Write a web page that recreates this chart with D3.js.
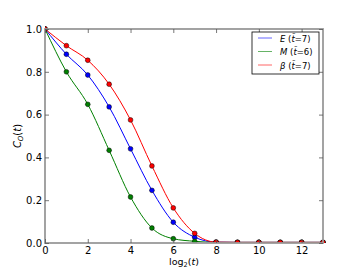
<!DOCTYPE html>
<html lang="en">
<head>
    <meta charset="UTF-8">
    <script src="https://cdn.jsdelivr.net/npm/d3@7"></script>
    <style>
        * { margin: 0; padding: 0; }
        body { background: #fff; }
        text { font-family: "DejaVu Sans", sans-serif; }
    </style>
</head>
<body>
    <script>
        const width = 360;
        const height = 270;
        const margin = { left: 45, right: 37, top: 29, bottom: 27 };

        // data
        const steps = [0, 1, 2, 3, 4, 5, 6, 7, 8, 9, 10, 11, 12, 13];
        const valsE = [1, 0.882, 0.785, 0.636, 0.44, 0.246, 0.097, 0.027, 0.004, 0.003, 0.003, 0.003, 0.003, 0.003];
        const valsM = [1, 0.80, 0.648, 0.433, 0.215, 0.07, 0.02, 0.008, 0.003, 0.003, 0.003, 0.003, 0.003, 0.003];
        const valsB = [1, 0.922, 0.854, 0.742, 0.575, 0.36, 0.164, 0.045, 0.004, 0.003, 0.003, 0.003, 0.003, 0.003];
        const seriesNames = ["E", "M", "β"];
        const tbar = [7, 6, 7];
        const seriesColors = ["#0000ff", "#008000", "#ff0000"];
        const xTicks = [0, 2, 4, 6, 8, 10, 12];
        const yTicks = [0, 0.2, 0.4, 0.6, 0.8, 1.0];

        const series = [valsE, valsM, valsB];

        const x = d3.scaleLinear().domain([0, 13]).range([margin.left, width - margin.right]);
        const y = d3.scaleLinear().domain([0, 1]).range([height - margin.bottom, margin.top]);

        const svg = d3.select("body").append("svg")
            .attr("width", width)
            .attr("height", height);

        svg.append("defs").append("clipPath").attr("id", "clip")
            .append("rect")
            .attr("x", margin.left).attr("y", margin.top - 3)
            .attr("width", x(13) - margin.left + 3)
            .attr("height", y(0) - margin.top + 3);

        // lines
        const line = d3.line()
            .x((d, i) => x(steps[i]))
            .y(d => y(d))
            .curve(d3.curveMonotoneX);

        const plot = svg.append("g").attr("clip-path", "url(#clip)");
        series.forEach((vals, k) => {
            plot.append("path")
                .attr("d", line(vals))
                .attr("fill", "none")
                .attr("stroke", seriesColors[k])
                .attr("stroke-width", 1);
        });
        series.forEach((vals, k) => {
            plot.selectAll("circle.s" + k)
                .data(vals)
                .enter()
                .append("circle")
                .attr("cx", (d, i) => x(steps[i]))
                .attr("cy", d => y(d))
                .attr("r", 2.4)
                .attr("fill", seriesColors[k])
                .attr("stroke", "#000")
                .attr("stroke-width", 0.5);
        });

        // frame
        svg.append("rect")
            .attr("x", margin.left).attr("y", margin.top)
            .attr("width", width - margin.left - margin.right)
            .attr("height", height - margin.top - margin.bottom)
            .attr("fill", "none")
            .attr("stroke", "#999")
            .attr("stroke-width", 1.8);

        // axes with inward ticks
        svg.append("g")
            .attr("transform", `translate(0,${y(0)})`)
            .call(d3.axisBottom(x).tickValues(xTicks).tickSize(-4).tickPadding(4).tickFormat(d3.format("d")));
        svg.append("g")
            .attr("transform", `translate(${margin.left},0)`)
            .call(d3.axisLeft(y).tickValues(yTicks).tickSize(-4).tickPadding(3).tickFormat(d3.format(".1f")));
        svg.append("g")
            .attr("transform", `translate(0,${margin.top})`)
            .call(d3.axisTop(x).tickValues(xTicks).tickSize(-4).tickFormat(""));
        svg.append("g")
            .attr("transform", `translate(${width - margin.right},0)`)
            .call(d3.axisRight(y).tickValues(yTicks).tickSize(-4).tickFormat(""));

        svg.selectAll(".domain").remove();
        svg.selectAll(".tick line").attr("stroke", "#555").attr("stroke-width", 0.8);
        svg.selectAll(".tick text")
            .attr("font-size", 10)
            .attr("fill", "#000")
            .attr("font-family", "DejaVu Sans, sans-serif");

        // axis labels
        const xl = svg.append("text")
            .attr("x", x(6.5))
            .attr("y", 265)
            .attr("text-anchor", "middle")
            .attr("font-family", "DejaVu Serif, serif")
            .attr("font-size", 9.5);
        xl.append("tspan").text("log");
        xl.append("tspan").attr("font-size", 6.5).attr("dy", 2).text("2");
        xl.append("tspan").attr("dy", -2).text("(");
        xl.append("tspan").attr("font-style", "italic").text("t");
        xl.append("tspan").text(")");

        const yl = svg.append("text")
            .attr("transform", `translate(21,${y(0.5)}) rotate(-90)`)
            .attr("text-anchor", "middle")
            .attr("font-family", "DejaVu Serif, serif")
            .attr("font-size", 10);
        yl.append("tspan").attr("font-style", "italic").text("C");
        yl.append("tspan").attr("font-style", "italic").attr("font-size", 7).attr("dy", 2).text("O");
        yl.append("tspan").attr("dy", -2).text("(");
        yl.append("tspan").attr("font-style", "italic").text("t");
        yl.append("tspan").text(")");

        // legend
        const lg = svg.append("g").attr("transform", "translate(252,32)");
        lg.append("rect")
            .attr("width", 67).attr("height", 42)
            .attr("fill", "#fff")
            .attr("stroke", "#000")
            .attr("stroke-width", 0.8);
        seriesNames.forEach((name, k) => {
            const row = lg.append("g").attr("transform", `translate(0,${6 + k * 13.5})`);
            row.append("line")
                .attr("x1", 6).attr("x2", 20)
                .attr("stroke", seriesColors[k])
                .attr("stroke-opacity", 0.6)
                .attr("stroke-width", 1);
            const t = row.append("text")
                .attr("x", 28).attr("y", 3.5)
                .attr("font-size", 8.5)
                .attr("font-family", "DejaVu Serif, serif");
            t.append("tspan").attr("font-style", "italic").text(name);
            t.append("tspan").text(" (");
            t.append("tspan").attr("font-style", "italic").text("t\u0304");
            t.append("tspan").attr("font-family", "DejaVu Sans, sans-serif").text("=" + tbar[k] + ")");
        });
    </script>
</body>
</html>
